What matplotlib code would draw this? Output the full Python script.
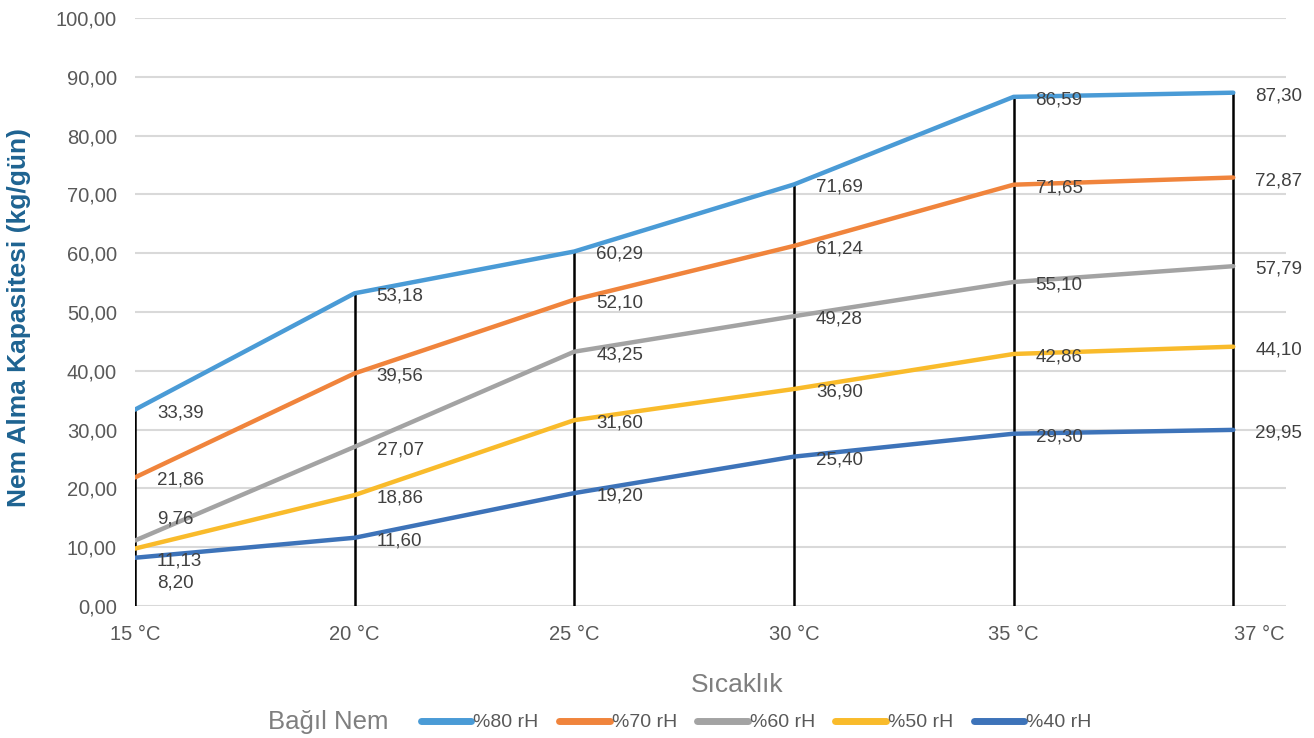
import matplotlib
matplotlib.use('Agg')
import matplotlib.pyplot as plt
import matplotlib.transforms as mtransforms
import numpy as np

plt.rcParams['font.family'] = ['Liberation Sans', 'DejaVu Sans']

temps = ['15 °C', '20 °C', '25 °C', '30 °C', '35 °C', '37 °C']
rh80 = [33.39, 53.18, 60.29, 71.69, 86.59, 87.30]
rh70 = [21.86, 39.56, 52.10, 61.24, 71.65, 72.87]
rh60 = [11.13, 27.07, 43.25, 49.28, 55.10, 57.79]
rh50 = [9.76, 18.86, 31.60, 36.90, 42.86, 44.10]
rh40 = [8.20, 11.60, 19.20, 25.40, 29.30, 29.95]
names = ['%80 rH', '%70 rH', '%60 rH', '%50 rH', '%40 rH']
colors = ['#4A9BD6', '#F0843C', '#A3A3A3', '#F9BB2B', '#3D73B9']
series = [rh80, rh70, rh60, rh50, rh40]

# label nudges in pixels (dx, dy) for the crowded first column
nudge = {(2, 0): (22, -20), (3, 0): (22, 30), (4, 0): (22, -25)}

fig = plt.figure(figsize=(13.14, 7.38), dpi=100)
ax = fig.add_axes([0.1027, 0.1789, 0.876, 0.7967])
x = np.arange(len(temps))

ax.vlines(x, 0, rh80, color='black', lw=1.8, zorder=2)

for i, (vals, name, c) in enumerate(zip(series, names, colors)):
    ax.plot(x, vals, color=c, lw=3.2, label=name, zorder=3, solid_capstyle='round')
    for j, v in enumerate(vals):
        dx, dy = nudge.get((i, j), (22, -3))
        ax.annotate(f'{v:.2f}'.replace('.', ','), (x[j], v), xytext=(dx, dy),
                    textcoords='offset pixels', ha='left', va='center',
                    fontsize=13.5, color='#404040', zorder=4)

ax.set_xlim(0, 5.24)
ax.set_ylim(0, 100)
ax.set_yticks(np.arange(0, 101, 10))
ax.set_yticklabels([f'{v:.2f}'.replace('.', ',') for v in np.arange(0, 101, 10)])
ax.set_xticks(x)
ax.set_xticklabels(temps)
ax.tick_params(axis='both', length=0, labelsize=14.5, colors='#595959')
ax.tick_params(axis='y', pad=13)
ax.tick_params(axis='x', pad=14)
# last category label sits a little to the right in the original
last = ax.get_xticklabels()[-1]
last.set_transform(last.get_transform() + mtransforms.ScaledTranslation(0.26, 0, fig.dpi_scale_trans))
ax.grid(axis='y', color='#D9D9D9', lw=1.5)
ax.set_axisbelow(True)
for s in ax.spines.values():
    s.set_visible(False)

fig.text(0.0145, 0.57, 'Nem Alma Kapasitesi (kg/gün)', rotation=90, ha='center', va='center',
         fontsize=19, fontweight='bold', color='#1E6391')
fig.text(0.561, 0.072, 'Sıcaklık', ha='center', va='center', fontsize=19, color='#7F7F7F')
fig.text(0.204, 0.022, 'Bağıl Nem', ha='left', va='center', fontsize=18.5, color='#7F7F7F')

leg = fig.legend(loc='center', bbox_to_anchor=(0.5755, 0.021), ncol=5, frameon=False,
                 fontsize=14, handlelength=2.6, handletextpad=0.1, columnspacing=1.05)
for t in leg.get_texts():
    t.set_color('#595959')
for h in leg.get_lines():
    h.set_linewidth(5)

fig.savefig('out.png', dpi=100)
